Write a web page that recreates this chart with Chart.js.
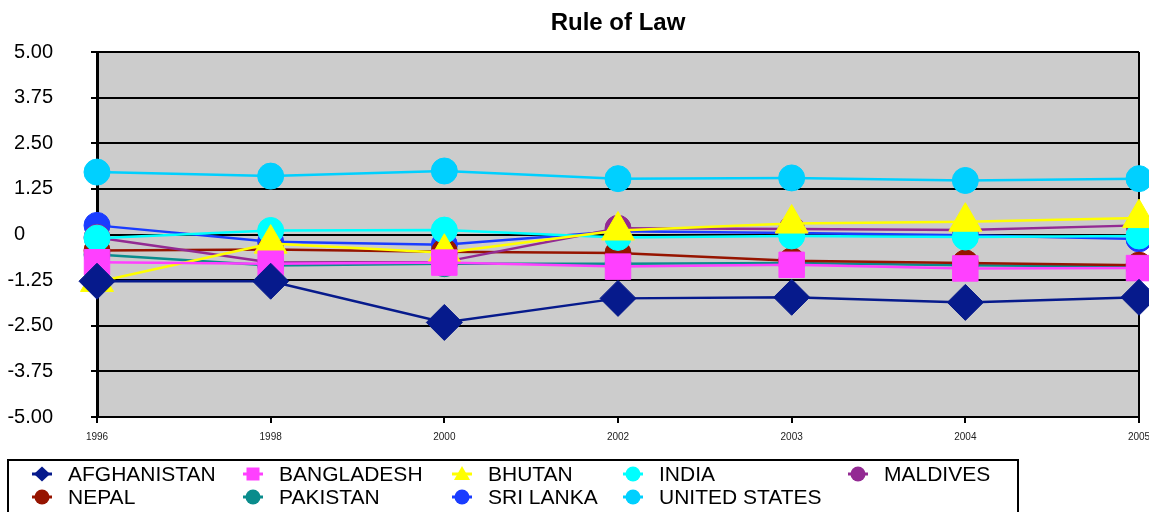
<!DOCTYPE html>
<html>
<head>
<meta charset="utf-8">
<title>Rule of Law</title>
<script src="https://cdn.jsdelivr.net/npm/chart.js@4.4.1/dist/chart.umd.min.js"></script>
<style>
  html, body { margin: 0; padding: 0; background: #fff; }
  #wrap { position: relative; width: 1149px; height: 512px; overflow: hidden; font-family: "Liberation Sans", Arial, sans-serif; }
  #chart { position: absolute; left: 0; top: 0; }
  #legendBox { position: absolute; left: 7px; top: 459px; width: 1012px; height: 80px; border: 2px solid #000; box-sizing: border-box; }
  .lg-mark { position: absolute; width: 26px; height: 20px; }
  .lg-text { position: absolute; font-size: 21px; line-height: 24px; color: #000; white-space: nowrap; }
</style>
</head>
<body>
<div id="wrap">
  <canvas id="chart" width="1149" height="512"></canvas>
  <div id="legendBox"></div>
</div>
<script>
// Survey years on the category axis
const years = ['1996', '1998', '2000', '2002', '2003', '2004', '2005'];

// Rule of Law governance estimates per country
const afghanistan  = [-1.28, -1.28, -2.41, -1.75, -1.72, -1.86, -1.72];
const bangladesh   = [-0.76, -0.80, -0.77, -0.88, -0.83, -0.93, -0.92];
const bhutan       = [-1.30, -0.25, -0.50, 0.11, 0.30, 0.35, 0.45];
const india        = [-0.10, 0.11, 0.12, -0.08, -0.04, -0.07, -0.04];
const maldives     = [-0.08, -0.77, -0.75, 0.17, 0.15, 0.12, 0.25];
const nepal        = [-0.44, -0.41, -0.47, -0.51, -0.72, -0.78, -0.84];
const pakistan     = [-0.55, -0.85, -0.80, -0.80, -0.78, -0.84, -0.88];
const sriLanka     = [0.25, -0.20, -0.28, 0.09, 0.04, -0.02, -0.12];
const unitedStates = [1.71, 1.60, 1.74, 1.53, 1.55, 1.48, 1.53];

// Y axis tick values
const yTicks = [-5, -3.75, -2.5, -1.25, 0, 1.25, 2.5, 3.75, 5];

const FONT = '"Liberation Sans", Arial, sans-serif';

// Series definitions: label, values, colour and marker
const series = [
  { label: 'AFGHANISTAN',   data: afghanistan,  color: '#061a8c', style: 'rectRot',  r: 18 },
  { label: 'BANGLADESH',    data: bangladesh,   color: '#ff40ff', style: 'rect',     r: 18 },
  { label: 'BHUTAN',        data: bhutan,       color: '#ffff00', style: 'triangle', r: 19 },
  { label: 'INDIA',         data: india,        color: '#00ffff', style: 'circle',   r: 13 },
  { label: 'MALDIVES',      data: maldives,     color: '#932a93', style: 'circle',   r: 13 },
  { label: 'NEPAL',         data: nepal,        color: '#961400', style: 'circle',   r: 13 },
  { label: 'PAKISTAN',      data: pakistan,     color: '#0a8c8c', style: 'circle',   r: 13 },
  { label: 'SRI LANKA',     data: sriLanka,     color: '#1a3cff', style: 'circle',   r: 13 },
  { label: 'UNITED STATES', data: unitedStates, color: '#00d0ff', style: 'circle',   r: 13 }
];

// Grey plot background and the right-hand frame line
const plotFrame = {
  id: 'plotFrame',
  beforeDraw(chart) {
    const a = chart.chartArea, ctx = chart.ctx;
    ctx.save();
    ctx.fillStyle = '#cccccc';
    ctx.fillRect(a.left, a.top, a.right - a.left, a.bottom - a.top);
    ctx.restore();
  },
  beforeDatasetsDraw(chart) {
    const a = chart.chartArea, ctx = chart.ctx;
    ctx.save();
    ctx.strokeStyle = '#000';
    ctx.lineWidth = 2;
    ctx.beginPath();
    ctx.moveTo(a.right, a.top);
    ctx.lineTo(a.right, a.bottom);
    ctx.stroke();
    ctx.restore();
  }
};

const chart = new Chart(document.getElementById('chart'), {
  type: 'line',
  data: {
    labels: years,
    datasets: series.map(s => ({
      label: s.label,
      data: s.data,
      borderColor: s.color,
      backgroundColor: s.color,
      borderWidth: 2.5,
      pointStyle: s.style,
      pointRadius: s.r,
      pointHoverRadius: s.r,
      pointBorderWidth: 1,
      pointBorderColor: s.color,
      pointBackgroundColor: s.color,
      tension: 0,
      fill: false,
      clip: false
    }))
  },
  options: {
    responsive: false,
    devicePixelRatio: 1,
    animation: false,
    events: [],
    layout: { autoPadding: false, padding: { left: 0, right: 10, top: 0, bottom: 0 } },
    plugins: {
      legend: { display: false },
      tooltip: { enabled: false },
      title: {
        display: true,
        text: 'Rule of Law',
        fullSize: false,
        color: '#000',
        font: { family: FONT, size: 24, weight: 'bold' },
        padding: { top: 9, bottom: 14.2 }
      }
    },
    scales: {
      x: {
        type: 'category',
        offset: false,
        grid: { drawOnChartArea: false, drawTicks: true, tickLength: 6, color: '#000', lineWidth: 2 },
        border: { display: true, color: '#000', width: 2 },
        ticks: { font: { family: FONT, size: 10 }, color: '#222', padding: 8, maxRotation: 0, autoSkip: false },
        afterFit(scale) {
          scale.height = 95;
          scale.paddingLeft = 0;
          scale.paddingRight = 0;
        }
      },
      y: {
        min: -5,
        max: 5,
        afterBuildTicks(scale) { scale.ticks = yTicks.map(v => ({ value: v })); },
        grid: { color: '#000', lineWidth: 2, tickLength: 6, drawTicks: true },
        border: { display: true, color: '#000', width: 3 },
        ticks: {
          font: { family: FONT, size: 20 },
          color: '#000',
          padding: 38,
          callback: v => (v === 0 ? '0     ' : v.toFixed(2))
        },
        afterFit(scale) {
          scale.width = 97;
          scale.paddingTop = 0;
          scale.paddingBottom = 0;
        }
      }
    }
  },
  plugins: [plotFrame]
});

// Legend laid out in a framed grid below the plot
(function buildLegend() {
  const wrap = document.getElementById('wrap');
  const colCenters = [42, 253, 462, 633, 858];
  const rowCenters = [474, 497];
  chart.data.datasets.forEach((ds, i) => {
    const col = i % 5, row = Math.floor(i / 5);
    const cx = colCenters[col], cy = rowCenters[row];
    const c = document.createElement('canvas');
    c.width = 26; c.height = 20;
    c.className = 'lg-mark';
    c.style.left = (cx - 13) + 'px';
    c.style.top = (cy - 10) + 'px';
    const g = c.getContext('2d');
    g.fillStyle = ds.backgroundColor;
    g.strokeStyle = ds.borderColor;
    g.lineWidth = 3;
    g.beginPath(); g.moveTo(3, 10); g.lineTo(23, 10); g.stroke();
    g.beginPath();
    const st = ds.pointStyle;
    if (st === 'rectRot') {
      g.moveTo(13, 2.5); g.lineTo(21, 10); g.lineTo(13, 17.5); g.lineTo(5, 10);
    } else if (st === 'rect') {
      g.rect(6.5, 3.5, 13, 13);
    } else if (st === 'triangle') {
      g.moveTo(13, 2); g.lineTo(21, 16); g.lineTo(5, 16);
    } else {
      g.arc(13, 10, 7.5, 0, Math.PI * 2);
    }
    g.closePath();
    g.fill();
    wrap.appendChild(c);

    const t = document.createElement('div');
    t.className = 'lg-text';
    t.textContent = ds.label;
    t.style.left = (cx + 26) + 'px';
    t.style.top = (cy - 12) + 'px';
    wrap.appendChild(t);
  });
})();
</script>
</body>
</html>
